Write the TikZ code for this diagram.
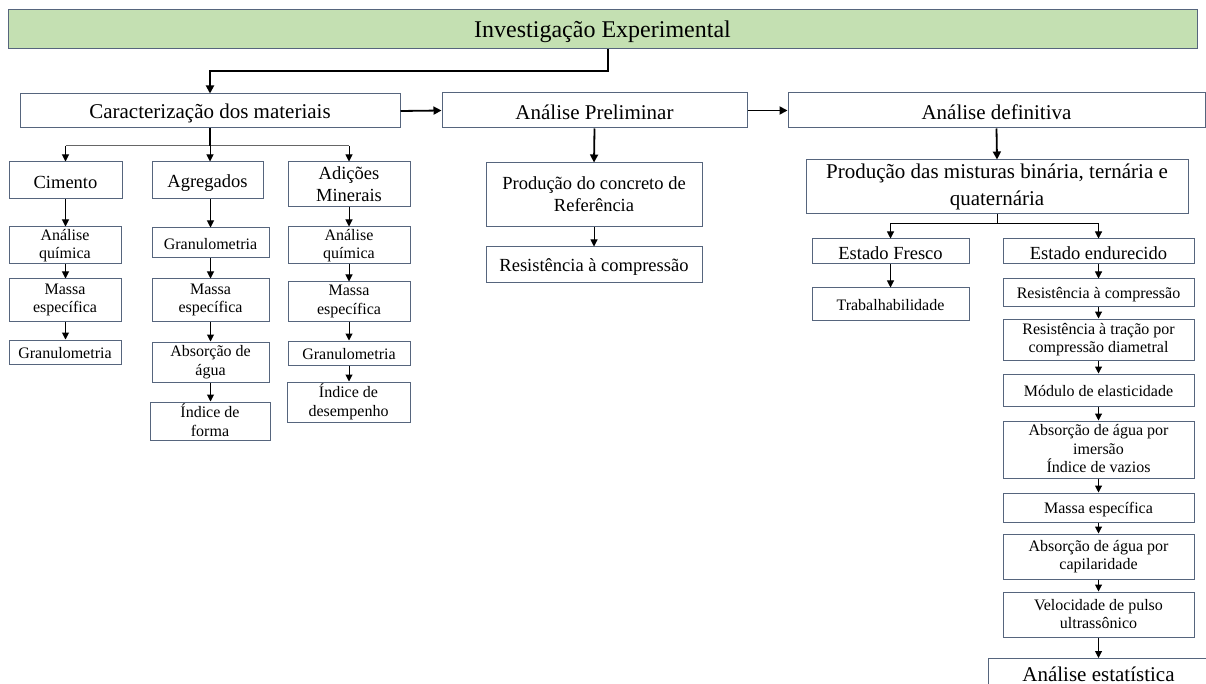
\documentclass[tikz,border=0pt]{standalone}
\usepackage{fontspec}
\setmainfont{Liberation Serif}
\usetikzlibrary{arrows.meta}
\definecolor{boxc}{HTML}{56657D}
\definecolor{greenf}{HTML}{C4E0B2}
\newcommand\mystrut{\rule[-0.08em]{0pt}{1.0em}}
\begin{document}
\begin{tikzpicture}[x=1pt,y=-1pt,
  box/.style={draw=boxc,line width=1pt,fill=white,inner sep=1pt,align=center,minimum width=#1,
    execute at begin node=\mystrut, execute at end node=\mystrut},
  box/.default=112pt,
  fbig/.style={font=\fontsize{21}{27}\selectfont},
  fmid/.style={font=\fontsize{18.5}{22}\selectfont},
  fsm/.style={font=\fontsize{16}{18.5}\selectfont},
  arr/.style={line width=1pt,-{Triangle[length=7pt,width=7pt]}},
  arrb/.style={line width=1.8pt,-{Triangle[length=8pt,width=8pt]}},
  thinl/.style={line width=1pt,draw=black!60}]
\useasboundingbox (0,0) rectangle (1206,684);
\clip (0,0) rectangle (1206,684);
% top
\node[box=1189pt,fill=greenf,minimum height=39pt,font=\fontsize{24}{28}\selectfont] (top) at (602.5,29.5) {Investigação Experimental};
% level 1
\node[box=380pt,minimum height=34pt,fbig] (car) at (210,111) {Caracterização dos materiais};
\node[box=305pt,minimum height=35pt,fbig] (pre) at (594.5,110.5) {Análise Preliminar};
\node[box=417pt,minimum height=35pt,fbig] (def) at (996.5,110.5) {Análise definitiva};
% materials
\node[box=113pt,minimum height=37pt,fmid] (cim) at (65.5,180.5) {Cimento};
\node[box=111pt,minimum height=37pt,fmid] (agr) at (207.5,180.5) {Agregados};
\node[box=122pt,minimum height=45pt,fmid] (adi) at (349,184.5) {Adições\\Minerais};
% cimento column
\node[box=112pt,minimum height=37pt,fsm] (c1) at (65,245.5) {Análise\\química};
\node[box=112pt,minimum height=42pt,fsm] (c2) at (65,300) {Massa\\específica};
\node[box=112pt,minimum height=24pt,fsm] (c3) at (65,352) {Granulometria};
% agregados column
\node[box=117pt,minimum height=30pt,fsm] (a1) at (210.5,243) {Granulometria};
\node[box=117pt,minimum height=42pt,fsm] (a2) at (210.5,300) {Massa\\específica};
\node[box=117pt,minimum height=40pt,fsm] (a3) at (210.5,362) {Absorção de\\água};
\node[box=120pt,minimum height=38pt,fsm] (a4) at (210,421) {Índice de\\forma};
% adicoes column
\node[box=122pt,minimum height=37pt,fsm] (d1) at (349,245.5) {Análise\\química};
\node[box=122pt,minimum height=39pt,fsm] (d2) at (349,301.5) {Massa\\específica};
\node[box=122pt,minimum height=24pt,fsm] (d3) at (349,353) {Granulometria};
\node[box=123pt,minimum height=40pt,fsm] (d4) at (348.5,402) {Índice de\\desempenho};
% preliminar
\node[box=216pt,minimum height=64pt,fmid] (p1) at (594,195) {Produção do concreto de\\Referência};
\node[box=216pt,minimum height=36pt,fmid] (p2) at (594,265) {Resistência à compressão};
% definitiva
\node[box=382pt,minimum height=54pt,fbig] (mis) at (997,187) {Produção das misturas binária, ternária e\\quaternária};
\node[box=157pt,minimum height=25pt,fmid] (ef) at (890.5,251.5) {Estado Fresco};
\node[box=191pt,minimum height=25pt,fmid] (ee) at (1098.5,251.5) {Estado endurecido};
\node[box=157pt,minimum height=32pt,fsm] (tr) at (890.5,304) {Trabalhabilidade};
\node[box=191pt,minimum height=27pt,fsm] (e1) at (1098.5,292.5) {Resistência à compressão};
\node[box=191pt,minimum height=41pt,fsm] (e2) at (1098.5,339.5) {Resistência à tração por\\compressão diametral};
\node[box=191pt,minimum height=32pt,fsm] (e3) at (1098.5,390) {Módulo de elasticidade};
\node[box=191pt,minimum height=57pt,fsm] (e4) at (1098.5,449.5) {Absorção de água por\\imersão\\Índice de vazios};
\node[box=191pt,minimum height=29pt,fsm] (e5) at (1098.5,507.5) {Massa específica};
\node[box=191pt,minimum height=45pt,fsm] (e6) at (1098.5,556.5) {Absorção de água por\\capilaridade};
\node[box=191pt,minimum height=45pt,fsm] (e7) at (1098.5,614.5) {Velocidade de pulso\\ultrassônico};
\node[box=220pt,minimum height=40pt,fbig,anchor=north west,text depth=14pt] (ae) at (988,658) {Análise estatística};
% connectors main
\coordinate (t1) at (608,71);
\draw[arrb] (top.south -| t1) -- (t1) -| (car.north);
\draw[arrb] (car.east) -- (pre.west);
\draw[arrb] (pre.east) -- (def.west);
\draw[arrb] (pre.south) -- (p1.north);
\draw[arrb] (def.south) -- (mis.north);
\draw[arr] (p1.south) -- (p2.north);
% materials branching
\coordinate (bm) at (210,146);
\draw[thinl] (cim.north |- bm) -- (adi.north |- bm);
\draw[line width=1.5pt] (car.south) -- (bm);
\draw[arr] (bm) -- (bm |- agr.north);
\draw[arr] (cim.north |- bm) -- (cim.north);
\draw[arr] (adi.north |- bm) -- (adi.north);
% cimento chain
\draw[arr] (cim.south) -- (c1.north -| cim.south);
\draw[arr] (c1.south -| cim.south) -- (c2.north -| cim.south);
\draw[arr] (c2.south -| cim.south) -- (c3.north -| cim.south);
% agregados chain
\draw[arr] (agr.south -| a1.north) -- (a1.north);
\draw[arr] (a1.south) -- (a2.north);
\draw[arr] (a2.south) -- (a3.north);
\draw[arr] (a3.south) -- (a4.north -| a3.south);
% adicoes chain
\draw[arr] (adi.south) -- (d1.north);
\draw[arr] (d1.south) -- (d2.north);
\draw[arr] (d2.south) -- (d3.north);
\draw[arr] (d3.south) -- (d4.north -| d3.south);
% definitiva branching
\coordinate (bd) at (997,224);
\draw[line width=1pt] (mis.south) -- (bd);
\draw[arr] (bd) -| (ef.north);
\draw[arr] (bd) -| (ee.north);
\draw[arr] (ef.south) -- (tr.north);
\draw[arr] (ee.south) -- (e1.north);
\draw[arr] (e1.south) -- (e2.north);
\draw[arr] (e2.south) -- (e3.north);
\draw[arr] (e3.south) -- (e4.north);
\draw[arr] (e4.south) -- (e5.north);
\draw[arr] (e5.south) -- (e6.north);
\draw[arr] (e6.south) -- (e7.north);
\draw[arr] (e7.south) -- (e7.south |- ae.north);
\end{tikzpicture}
\end{document}
